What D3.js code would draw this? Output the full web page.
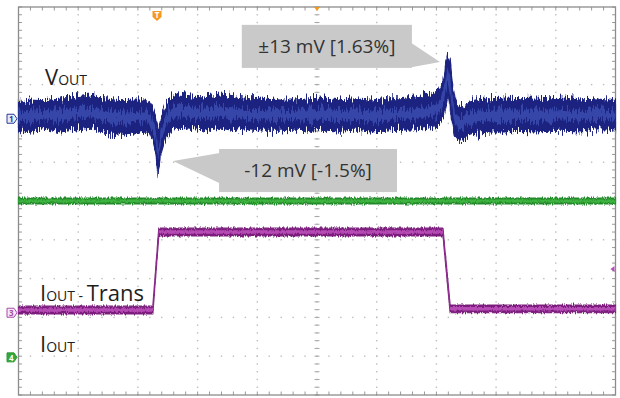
<!DOCTYPE html>
<html>
<head>
<meta charset="utf-8">
<script src="https://cdn.jsdelivr.net/npm/d3@7"></script>
<style>
  html, body { margin: 0; padding: 0; background: #fff; }
  svg { display: block; font-family: "Open Sans", "Noto Sans", sans-serif; }
</style>
</head>
<body>
<svg id="scope" width="620" height="398"></svg>
<script>
// all values in screen divisions: x 0..10, y -5..5 (0 = centre graticule line)
const timeDiv = [0, 0.19, 0.44, 0.70, 0.95, 1.20, 1.45, 1.70, 1.95, 2.12,
  2.20, 2.25, 2.29, 2.32, 2.34, 2.35, 2.39, 2.44, 2.50, 2.57,
  2.67, 2.87, 3.12, 3.38, 3.63, 3.88, 4.13, 4.38, 4.63, 4.88,
  5.13, 5.39, 5.64, 5.89, 6.14, 6.39, 6.64, 6.86, 7.03, 7.11,
  7.16, 7.19, 7.23, 7.26, 7.31, 7.36, 7.43, 7.53, 7.65, 7.90,
  8.15, 8.40, 8.65, 8.90, 9.15, 9.41, 9.66, 10];

// VOUT noise band, upper and lower envelope
const voutHigh = [2.53, 2.60, 2.58, 2.65, 2.68, 2.73, 2.63, 2.58, 2.60, 2.60,
  2.53, 2.40, 2.22, 1.96, 1.70, 1.83, 2.14, 2.40, 2.60, 2.71,
  2.76, 2.71, 2.68, 2.73, 2.68, 2.63, 2.65, 2.60, 2.60, 2.63,
  2.65, 2.60, 2.63, 2.60, 2.63, 2.63, 2.68, 2.73, 2.81, 3.07,
  3.58, 3.81, 3.58, 3.12, 2.65, 2.47, 2.45, 2.53, 2.60, 2.63,
  2.65, 2.63, 2.65, 2.63, 2.65, 2.60, 2.63, 2.58];
const voutLow = [1.83, 1.75, 1.88, 1.78, 1.83, 1.88, 1.75, 1.70, 1.73, 1.78,
  1.70, 1.52, 1.26, 0.93, 0.67, 0.80, 1.26, 1.52, 1.70, 1.83,
  1.91, 1.88, 1.83, 1.91, 1.83, 1.83, 1.80, 1.80, 1.83, 1.80,
  1.83, 1.80, 1.83, 1.78, 1.80, 1.83, 1.83, 1.88, 1.93, 2.14,
  2.47, 2.73, 2.40, 2.04, 1.62, 1.52, 1.57, 1.68, 1.75, 1.78,
  1.78, 1.80, 1.78, 1.80, 1.80, 1.78, 1.83, 1.83];

// IOUT - Trans (load step)
const transTime = [0, 2.25, 2.35, 7.11, 7.23, 10];
const transLevel = [-2.81, -2.81, -0.80, -0.80, -2.78, -2.78];

// IOUT (flat)
const ioutTime = [0, 10];
const ioutLevel = [0, 0];

const markerChannels = ["1", "3", "4"];
const markerLevels = [2.12, -2.88, -4.03];
const triggerTime = 2.32;
const triggerLevel = -1.75;

const svg = d3.select("#scope");
const x = d3.scaleLinear().domain([0, 10]).range([18.5, 615.5]);
const y = d3.scaleLinear().domain([-5, 5]).range([395, 7]);

const defs = svg.append("defs");
function noiseFilter(id, freq, amount, seed) {
  const f = defs.append("filter").attr("id", id)
    .attr("x", "-2%").attr("y", "-60%").attr("width", "104%").attr("height", "220%");
  f.append("feTurbulence").attr("type", "fractalNoise")
    .attr("baseFrequency", freq).attr("numOctaves", 3).attr("seed", seed).attr("result", "n");
  // keep red at 0.5 so the trace only moves vertically
  f.append("feColorMatrix").attr("in", "n").attr("type", "matrix")
    .attr("values", "0 0 0 0 0.5  0 1 0 0 0  0 0 0 0 0  0 0 0 0 1").attr("result", "m");
  f.append("feDisplacementMap").attr("in", "SourceGraphic").attr("in2", "m")
    .attr("scale", amount).attr("xChannelSelector", "R").attr("yChannelSelector", "G");
}
noiseFilter("noiseV", "0.8 0.06", 18, 3);
noiseFilter("noiseI", "0.9 0.2", 4, 7);

// graticule
const g = svg.append("g");
const minor = d3.range(0, 10.001, 0.2);
const minorY = d3.range(-5, 5.001, 0.2);
for (let i = 1; i < 10; i++) {
  g.selectAll(null).data(minorY).enter().append("rect")
    .attr("x", x(i) - 0.7).attr("y", d => y(d) - 0.7)
    .attr("width", 1.4).attr("height", 1.4).attr("fill", "#bdbdbd");
}
for (let j = -4; j < 5; j++) {
  g.selectAll(null).data(minor).enter().append("rect")
    .attr("x", d => x(d) - 0.7).attr("y", y(j) - 0.7)
    .attr("width", 1.4).attr("height", 1.4).attr("fill", "#bdbdbd");
}
// centre line ticks
g.selectAll(null).data(minorY).enter().append("line")
  .attr("x1", x(5) - 2.5).attr("x2", x(5) + 2.5)
  .attr("y1", d => y(d)).attr("y2", d => y(d))
  .attr("stroke", "#a8a8a8").attr("stroke-width", 1);
g.selectAll(null).data(minor).enter().append("line")
  .attr("x1", d => x(d)).attr("x2", d => x(d))
  .attr("y1", y(0) - 2.5).attr("y2", y(0) + 2.5)
  .attr("stroke", "#a8a8a8").attr("stroke-width", 1);
// border ticks
g.selectAll(null).data(minor).enter().append("line")
  .attr("x1", d => x(d)).attr("x2", d => x(d)).attr("y1", y(5)).attr("y2", y(5) + 3.5)
  .attr("stroke", "#9a9a9a");
g.selectAll(null).data(minor).enter().append("line")
  .attr("x1", d => x(d)).attr("x2", d => x(d)).attr("y1", y(-5)).attr("y2", y(-5) - 3.5)
  .attr("stroke", "#9a9a9a");
g.selectAll(null).data(minorY).enter().append("line")
  .attr("x1", x(0)).attr("x2", x(0) + 3.5).attr("y1", d => y(d)).attr("y2", d => y(d))
  .attr("stroke", "#9a9a9a");
g.selectAll(null).data(minorY).enter().append("line")
  .attr("x1", x(10)).attr("x2", x(10) - 3.5).attr("y1", d => y(d)).attr("y2", d => y(d))
  .attr("stroke", "#9a9a9a");
g.append("rect").attr("x", x(0)).attr("y", y(5))
  .attr("width", x(10) - x(0)).attr("height", y(-5) - y(5))
  .attr("fill", "none").attr("stroke", "#8c8c8c").attr("stroke-width", 1.3);

// traces
const band = d3.area().x(d => x(d.t)).y0(d => y(d.lo)).y1(d => y(d.hi));
function bandData(times, his, los, core) {
  return times.map((t, i) => {
    const mid = (his[i] + los[i]) / 2, half = (his[i] - los[i]) / 2 * core;
    return { t: t, hi: mid + half, lo: mid - half };
  });
}
function drawTrace(times, his, los, dark, light, core, filter) {
  const tg = svg.append("g").attr("filter", "url(#" + filter + ")");
  tg.append("path").datum(bandData(times, his, los, 1)).attr("d", band)
    .attr("fill", dark).attr("stroke", dark).attr("stroke-width", 1.2);
  tg.append("path").datum(bandData(times, his, los, core)).attr("d", band)
    .attr("fill", light);
}
drawTrace(timeDiv, voutHigh, voutLow, "#1c2480", "#3445a8", 0.35, "noiseV");
drawTrace(ioutTime, ioutLevel.map(v => v + 0.075), ioutLevel.map(v => v - 0.075),
  "#24892b", "#3db441", 0.55, "noiseI");
drawTrace(transTime, transLevel.map(v => v + 0.1), transLevel.map(v => v - 0.1),
  "#7c1f7d", "#b64cb6", 0.45, "noiseI");

// channel markers on the left edge
const markerStyle = {
  "1": { stroke: "#2c3a9a", fill: "#e8eaf6", text: "#2c3a9a" },
  "3": { stroke: "#a84aa8", fill: "#f6e8f6", text: "#a84aa8" },
  "4": { stroke: "#2f9a35", fill: "#35a63b", text: "#ffffff" }
};
markerChannels.forEach((c, i) => {
  const cy = y(markerLevels[i]), s = markerStyle[c];
  svg.append("path")
    .attr("d", `M7,${cy - 4.5}H14L17,${cy}L14,${cy + 4.5}H7Z`)
    .attr("fill", s.fill).attr("stroke", s.stroke).attr("stroke-width", 1);
  svg.append("text").attr("x", 11.2).attr("y", cy + 3.2)
    .attr("text-anchor", "middle").attr("font-size", 8).attr("font-weight", "bold")
    .attr("fill", s.text).text(c);
});

// trigger position and level marks
const tx = x(triggerTime);
svg.append("path")
  .attr("d", `M${tx - 4.5},11H${tx + 4.5}V17L${tx},21L${tx - 4.5},17Z`)
  .attr("fill", "#f39a1e");
svg.append("text").attr("x", tx).attr("y", 18).attr("text-anchor", "middle")
  .attr("font-size", 8).attr("font-weight", "bold").attr("fill", "#fff").text("T");
svg.append("path").attr("d", `M${x(5) - 3},${y(5)}L${x(5) + 3},${y(5)}L${x(5)},${y(5) + 4}Z`)
  .attr("fill", "#f39a1e");
const ty = y(triggerLevel);
svg.append("path").attr("d", `M${x(10) - 5},${ty}L${x(10) - 1},${ty - 3}L${x(10) - 1},${ty + 3}Z`)
  .attr("fill", "#b64cb6");

// trace labels
function label(px, py, parts) {
  const t = svg.append("text").attr("x", px).attr("y", py).attr("fill", "#1e1e1e");
  parts.forEach(p => t.append("tspan").attr("font-size", p[1]).text(p[0]));
}
label(45, 85, [["V", 22], ["OUT", 14]]);
label(40, 301, [["I", 22], ["OUT", 14], [" - ", 14], ["Trans", 22]]);
label(40, 352, [["I", 22], ["OUT", 14]]);

// callouts
function callout(box, tip, baseA, baseB, text) {
  const [x0, y0, x1, y1] = [x(box[0]), y(box[1]), x(box[2]), y(box[3])];
  svg.append("rect").attr("x", x0).attr("y", y0).attr("width", x1 - x0).attr("height", y1 - y0)
    .attr("fill", "#c9c9c9");
  svg.append("path")
    .attr("d", `M${x(baseA[0])},${y(baseA[1])}L${x(tip[0])},${y(tip[1])}L${x(baseB[0])},${y(baseB[1])}Z`)
    .attr("fill", "#c9c9c9");
  svg.append("text").attr("x", (x0 + x1) / 2).attr("y", (y0 + y1) / 2 + 6.5)
    .attr("text-anchor", "middle").attr("font-size", 19).attr("fill", "#333").text(text);
}
callout([3.74, 4.54, 6.59, 3.43], [7.06, 3.58], [6.58, 4.07], [6.58, 3.45], "±13 mV [1.63%]");
callout([3.36, 1.34, 6.34, 0.23], [2.59, 1.03], [3.37, 1.24], [3.37, 0.46], "-12 mV [-1.5%]");
</script>
</body>
</html>
